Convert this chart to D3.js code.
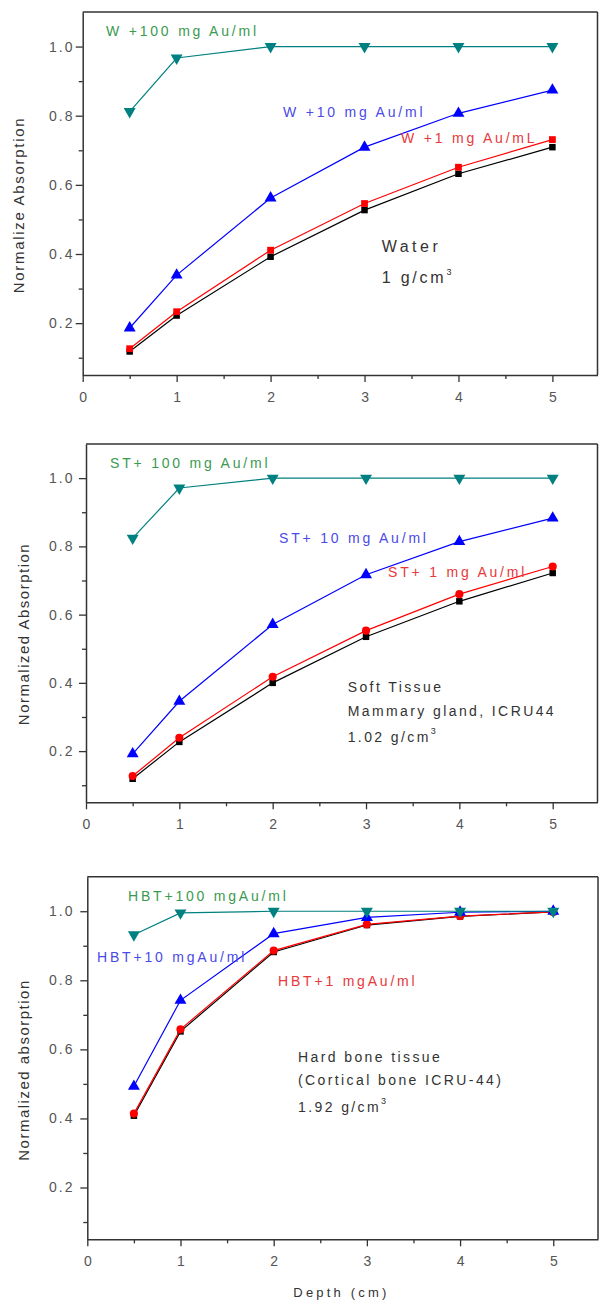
<!DOCTYPE html>
<html><head><meta charset="utf-8">
<script src="https://cdn.jsdelivr.net/npm/d3@7"></script>
<style>body{margin:0;background:#fff}svg{display:block}text{font-family:"Liberation Sans",Arial,sans-serif}</style>
</head><body><svg id="c" width="599" height="1301"></svg>
<script>
// ---- data ----
const depth = [0.5, 1, 2, 3, 4, 5];

const waterBase = [0.118, 0.222, 0.392, 0.527, 0.632, 0.709];
const water1    = [0.126, 0.233, 0.411, 0.546, 0.651, 0.731];
const water10   = [0.186, 0.339, 0.562, 0.709, 0.807, 0.874];
const water100  = [0.812, 0.967, 1.000, 1.000, 1.000, 1.000];

const softBase = [0.119, 0.227, 0.400, 0.535, 0.639, 0.722];
const soft1    = [0.127, 0.239, 0.418, 0.553, 0.660, 0.741];
const soft10   = [0.192, 0.346, 0.571, 0.717, 0.814, 0.883];
const soft100  = [0.824, 0.971, 1.000, 1.000, 1.000, 1.000];

const boneBase = [0.408, 0.652, 0.882, 0.960, 0.985, 0.998];
const bone1    = [0.414, 0.658, 0.886, 0.962, 0.986, 0.998];
const bone10   = [0.493, 0.742, 0.935, 0.982, 0.997, 1.000];
const bone100  = [0.932, 0.995, 1.000, 1.000, 1.000, 1.000];

const xTickValues = [0, 1, 2, 3, 4, 5];
const xMinorValues = [0.5, 1.5, 2.5, 3.5, 4.5];
const yTickValues = [0.2, 0.4, 0.6, 0.8, 1.0];
const yMinorValues = [0.1, 0.3, 0.5, 0.7, 0.9];

const waterLabels = ["W +1 mg Au/mL", "W +10 mg Au/ml", "W +100 mg Au/ml"];
const softLabels  = ["ST+ 1 mg Au/ml", "ST+ 10 mg Au/ml", "ST+ 100 mg Au/ml"];
const boneLabels  = ["HBT+1 mgAu/ml", "HBT+10 mgAu/ml", "HBT+100 mgAu/ml"];

const yTitles = ["Normalize Absorption", "Normalized Absorption", "Normalized absorption"];
const xTitle = "Depth (cm)";

// ---- drawing ----
const svg = d3.select("#c");
const lineColors = ["#000000", "#ff0000", "#0000ff", "#008080"];
const labelColors = ["#e8383a", "#4a4ae8", "#3a9a50"];
const axisColor = "#333";
const tickTextColor = "#555";

function txt(g, x, y, s, o) {
  o = o || {};
  const t = g.append("text").attr("x", x).attr("y", y)
    .attr("font-size", o.size || 13)
    .attr("letter-spacing", o.ls != null ? o.ls : 3)
    .attr("fill", o.fill || "#333")
    .text(s);
  if (o.anchor) t.attr("text-anchor", o.anchor);
  return t;
}
function supText(g, x, y, main, sup, o) {
  const t = txt(g, x, y, main, o);
  t.append("tspan").attr("dy", -8).attr("font-size", 9).attr("letter-spacing", 0).text(sup);
  return t;
}

const panels = [
  { top: 12, bottom: 375, left: 82.7, right: 597.5,
    series: [waterBase, water1, water10, water100], redShape: d3.symbolSquare,
    labels: waterLabels,
    labelPos: [[401, 143], [283, 117], [106, 36]],
    title: yTitles[0], titleX: 24, titleY: 205, titleLs: 1.7,
    notes: function (g) {
      txt(g, 381.7, 252, "Water", { size: 16, ls: 3.5 });
      supText(g, 381.7, 283, "1 g/cm", "3", { size: 16, ls: 2.8 });
    } },
  { top: 444, bottom: 802.3, left: 86, right: 597.5,
    series: [softBase, soft1, soft10, soft100], redShape: d3.symbolCircle,
    labels: softLabels,
    labelPos: [[388, 577], [279, 543], [110, 468]],
    title: yTitles[1], titleX: 29, titleY: 634, titleLs: 1.5,
    notes: function (g) {
      txt(g, 347.7, 692, "Soft Tissue", { size: 14, ls: 2.4 });
      txt(g, 347.7, 716, "Mammary gland, ICRU44", { size: 14, ls: 2.4 });
      supText(g, 347.7, 742, "1.02 g/cm", "3", { size: 14, ls: 2.4 });
    } },
  { top: 876.7, bottom: 1239.3, left: 87.3, right: 598,
    series: [boneBase, bone1, bone10, bone100], redShape: d3.symbolCircle,
    labels: boneLabels,
    labelPos: [[278, 986], [97, 962], [128, 901]],
    title: yTitles[2], titleX: 29, titleY: 1070, titleLs: 1.5,
    notes: function (g) {
      txt(g, 298, 1062, "Hard bone tissue", { size: 14, ls: 2.4 });
      txt(g, 298, 1085, "(Cortical bone ICRU-44)", { size: 14, ls: 2.4 });
      supText(g, 298, 1112, "1.92 g/cm", "3", { size: 14, ls: 2.4 });
    },
    xTitle: true }
];

panels.forEach(function (p) {
  const x = d3.scaleLinear().domain([0, 5.48]).range([p.left, p.right]);
  const y = d3.scaleLinear().domain([0.05, 1.1]).range([p.bottom, p.top]);
  const g = svg.append("g");

  // minor ticks
  g.append("g").attr("transform", `translate(0,${p.bottom})`)
    .call(d3.axisBottom(x).tickValues(xMinorValues).tickSize(4).tickFormat(""))
    .call(a => a.select(".domain").remove())
    .call(a => a.selectAll("line").attr("stroke", axisColor).attr("stroke-width", 1.3));
  g.append("g").attr("transform", `translate(${p.left},0)`)
    .call(d3.axisLeft(y).tickValues(yMinorValues).tickSize(4).tickFormat(""))
    .call(a => a.select(".domain").remove())
    .call(a => a.selectAll("line").attr("stroke", axisColor).attr("stroke-width", 1.3));

  // major axes
  const xa = g.append("g").attr("transform", `translate(0,${p.bottom})`)
    .call(d3.axisBottom(x).tickValues(xTickValues).tickSize(7).tickSizeOuter(0).tickPadding(10).tickFormat(d3.format("d")));
  const ya = g.append("g").attr("transform", `translate(${p.left},0)`)
    .call(d3.axisLeft(y).tickValues(yTickValues).tickSize(7).tickSizeOuter(0).tickPadding(p.left - 74.5 - 7).tickFormat(d3.format(".1f")));
  [xa, ya].forEach(a => {
    a.select(".domain").attr("stroke", axisColor).attr("stroke-width", 1.5);
    a.selectAll("line").attr("stroke", axisColor).attr("stroke-width", 1.3);
    a.selectAll("text").attr("fill", tickTextColor).attr("font-size", 14)
      .attr("letter-spacing", 2).attr("font-family", '"Liberation Sans",Arial,sans-serif');
  });
  xa.selectAll("text").attr("dx", 1);

  // top and right frame
  g.append("line").attr("x1", p.left).attr("x2", p.right).attr("y1", p.top).attr("y2", p.top)
    .attr("stroke", axisColor).attr("stroke-width", 1.5);
  g.append("line").attr("x1", p.right).attr("x2", p.right).attr("y1", p.top).attr("y2", p.bottom)
    .attr("stroke", axisColor).attr("stroke-width", 1.5);

  // series
  const line = d3.line().x((d, i) => x(depth[i])).y(d => y(d));
  const shapes = [d3.symbolSquare, p.redShape, d3.symbolTriangle, d3.symbolTriangle];
  const sizes = [42, p.redShape === d3.symbolCircle ? 52 : 46, 62, 62];
  p.series.forEach(function (vals, si) {
    g.append("path").attr("d", line(vals)).attr("fill", "none")
      .attr("stroke", lineColors[si]).attr("stroke-width", 1.2);
    const sym = d3.symbol().type(shapes[si]).size(sizes[si]);
    g.selectAll(null).data(vals).enter().append("path")
      .attr("d", sym)
      .attr("transform", (d, i) => `translate(${x(depth[i])},${y(d)})` + (si === 3 ? " rotate(180)" : ""))
      .attr("fill", lineColors[si]);
  });

  // series labels
  p.labels.forEach(function (s, i) {
    txt(g, p.labelPos[i][0], p.labelPos[i][1], s, { size: 14, ls: 2.8, fill: labelColors[i] });
  });

  // y title
  g.append("text").attr("transform", `translate(${p.titleX},${p.titleY}) rotate(-90)`)
    .attr("text-anchor", "middle").attr("font-size", 15).attr("letter-spacing", p.titleLs)
    .attr("fill", "#333").text(p.title);

  p.notes(g);

  if (p.xTitle) txt(g, 293.3, 1297, xTitle, { size: 13, ls: 3.2, fill: "#333" });
});
</script>
</body></html>
